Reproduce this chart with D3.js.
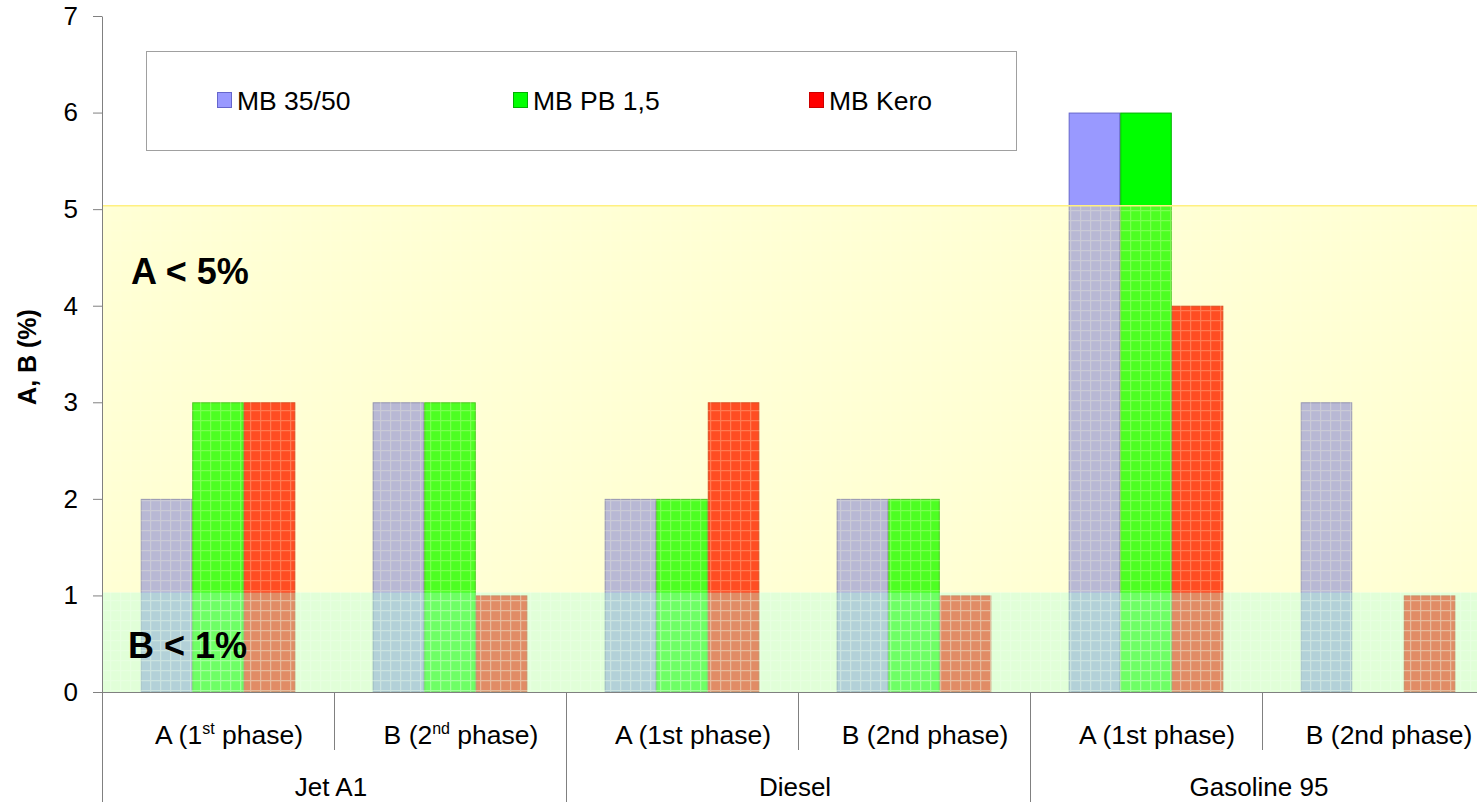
<!DOCTYPE html>
<html>
<head>
<meta charset="utf-8">
<script src="https://cdn.jsdelivr.net/npm/d3@7"></script>
<style>
  html, body { margin: 0; padding: 0; background: #fff; overflow: hidden; }
  svg { display: block; font-family: Arial, "Liberation Sans", sans-serif; }
</style>
</head>
<body>
<svg id="chart" width="1477" height="802"></svg>
<script>
// ---------- data ----------
const groups = ["Jet A1", "Diesel", "Gasoline 95"];
const categories = ["Jet A1|A", "Jet A1|B", "Diesel|A", "Diesel|B", "Gasoline 95|A", "Gasoline 95|B"];
// "^" marks a superscript run, closed by "~"
const categoryLabels = ["A (1^st~ phase)", "B (2^nd~ phase)", "A (1st phase)", "B (2nd phase)", "A (1st phase)", "B (2nd phase)"];
const seriesNames = ["MB 35/50", "MB PB 1,5", "MB Kero"];
const mb3550 = [2, 3, 2, 2, 6, 3];
const mbPB15 = [3, 3, 2, 2, 6, 0];
const mbKero = [3, 1, 3, 1, 4, 1];
const yTicks = [0, 1, 2, 3, 4, 5, 6, 7];
const bandLabels = ["A < 5%", "B < 1%"];
const bandLimits = [5.04, 1.03];
const yTitle = "A, B (%)";

const seriesValues = [mb3550, mbPB15, mbKero];
const colors = ["#9999FF", "#00FF00", "#FF0000"];
const strokes = ["#6666CC", "#00B000", "#CC0000"];

// ---------- layout ----------
const svg = d3.select("#chart");
const mLeft = 102, mTop = 16, mBottom = 692;
const catWidth = 232;
const mRight = mLeft + catWidth * categories.length;

const x = d3.scaleBand().domain(categories).range([mLeft, mRight]).paddingInner(0).paddingOuter(0);
const xs = d3.scaleBand().domain(seriesNames).range([0, x.bandwidth()]).paddingInner(0).paddingOuter(0.75);
const y = d3.scaleLinear().domain([0, 7]).range([mBottom, mTop]);

// patterns for bands
const defs = svg.append("defs");
function makePattern(id, fill, fillOp, line, lineOp) {
  const p = defs.append("pattern").attr("id", id).attr("width", 10).attr("height", 10)
    .attr("patternUnits", "userSpaceOnUse");
  p.append("rect").attr("width", 10).attr("height", 10).attr("fill", fill).attr("fill-opacity", fillOp);
  p.append("path").attr("d", "M0 0.5H10M0.5 0V10").attr("stroke", line).attr("stroke-opacity", lineOp)
    .attr("stroke-width", 1.5).attr("fill", "none");
}
makePattern("patY", "#FFFF70", 0.3, "#FFFFE0", 0.25);
makePattern("patG", "#C8FFB8", 0.55, "#F0FFEA", 0.4);

// ---------- bars ----------
const barData = [];
categories.forEach((c, i) => {
  seriesNames.forEach((s, j) => {
    barData.push({ cat: c, series: s, value: seriesValues[j][i], j });
  });
});
svg.append("g").selectAll("rect").data(barData.filter(d => d.value > 0)).join("rect")
  .attr("x", d => x(d.cat) + xs(d.series) + 0.5)
  .attr("y", d => y(d.value) + 0.5)
  .attr("width", xs.bandwidth() - 1)
  .attr("height", d => y(0) - y(d.value) - 1)
  .attr("fill", d => colors[d.j])
  .attr("stroke", d => strokes[d.j])
  .attr("stroke-width", 1);

// ---------- bands ----------
const bandG = svg.append("g");
bandG.append("rect")
  .attr("x", mLeft).attr("y", y(bandLimits[0]))
  .attr("width", mRight - mLeft).attr("height", y(bandLimits[1]) - y(bandLimits[0]))
  .attr("fill", "url(#patY)");
bandG.append("line").attr("x1", mLeft).attr("x2", mRight)
  .attr("y1", y(bandLimits[0]) + 0.5).attr("y2", y(bandLimits[0]) + 0.5)
  .attr("stroke", "#FFF080").attr("stroke-width", 1.5);
bandG.append("rect")
  .attr("x", mLeft).attr("y", y(bandLimits[1]))
  .attr("width", mRight - mLeft).attr("height", y(0) - y(bandLimits[1]))
  .attr("fill", "url(#patG)");

svg.append("text").attr("x", 131).attr("y", 284)
  .attr("font-size", 36).attr("font-weight", "bold").attr("fill", "#000").text(bandLabels[0]);
svg.append("text").attr("x", 128).attr("y", 658)
  .attr("font-size", 36).attr("font-weight", "bold").attr("fill", "#000").text(bandLabels[1]);

// ---------- axes ----------
const yAxis = d3.axisLeft(y).tickValues(yTicks).tickFormat(d3.format("d"))
  .tickSize(9).tickPadding(15).tickSizeOuter(0);
const yg = svg.append("g").attr("transform", `translate(${mLeft},0)`).call(yAxis);
yg.select(".domain").attr("stroke", "#808080");
yg.selectAll(".tick line").attr("stroke", "#808080");
yg.selectAll(".tick text").attr("font-size", 26).attr("fill", "#000")
  .attr("font-family", "Arial, 'Liberation Sans', sans-serif");

svg.append("text")
  .attr("transform", `translate(36,357) rotate(-90)`)
  .attr("text-anchor", "middle").attr("font-size", 25).attr("font-weight", "bold").text(yTitle);

// x axis line
svg.append("line").attr("x1", mLeft).attr("x2", mRight).attr("y1", mBottom + 0.5).attr("y2", mBottom + 0.5)
  .attr("stroke", "#808080");

// boundaries: short ticks between phases, long between groups
const boundaries = d3.range(categories.length + 1);
svg.append("g").selectAll("line").data(boundaries).join("line")
  .attr("x1", i => Math.round(mLeft + i * x.step()) + 0.5)
  .attr("x2", i => Math.round(mLeft + i * x.step()) + 0.5)
  .attr("y1", mBottom)
  .attr("y2", i => (i % 2 === 0 ? 802 : 750))
  .attr("stroke", "#808080");

// category labels with superscripts
const labG = svg.append("g").attr("font-size", 26.5).attr("text-anchor", "middle");
categories.forEach((c, i) => {
  const t = labG.append("text").attr("x", x(c) + x.bandwidth() / 2 + 11).attr("y", 744);
  const parts = categoryLabels[i].split(/(\^[^~]*~)/).filter(p => p);
  let after = false;
  parts.forEach(p => {
    if (p.startsWith("^")) {
      t.append("tspan").attr("font-size", 16).attr("dy", -10).text(p.slice(1, -1));
      after = true;
    } else {
      const ts = t.append("tspan").text(p);
      if (after) { ts.attr("dy", 10); after = false; }
    }
  });
});

// group labels
svg.append("g").attr("font-size", 26).attr("text-anchor", "middle")
  .selectAll("text").data(groups).join("text")
  .attr("x", (g, i) => mLeft + (2 * i + 1) * x.step() - 3)
  .attr("y", 796)
  .text(g => g);

// ---------- legend ----------
const lg = svg.append("g");
lg.append("rect").attr("x", 146.5).attr("y", 51.5).attr("width", 870).attr("height", 99)
  .attr("fill", "#fff").attr("stroke", "#A0A0A0");
const legendX = d3.scalePoint().domain(seriesNames).range([217, 809]);
const items = lg.selectAll("g.item").data(seriesNames).join("g").attr("class", "item")
  .attr("transform", d => `translate(${legendX(d)},92)`);
items.append("rect").attr("x", 0.5).attr("y", 0.5).attr("width", 14).attr("height", 15)
  .attr("fill", (d, i) => colors[i]).attr("stroke", (d, i) => strokes[i]);
items.append("text").attr("x", 20).attr("y", 18).attr("font-size", 26.5).text(d => d);
</script>
</body>
</html>
